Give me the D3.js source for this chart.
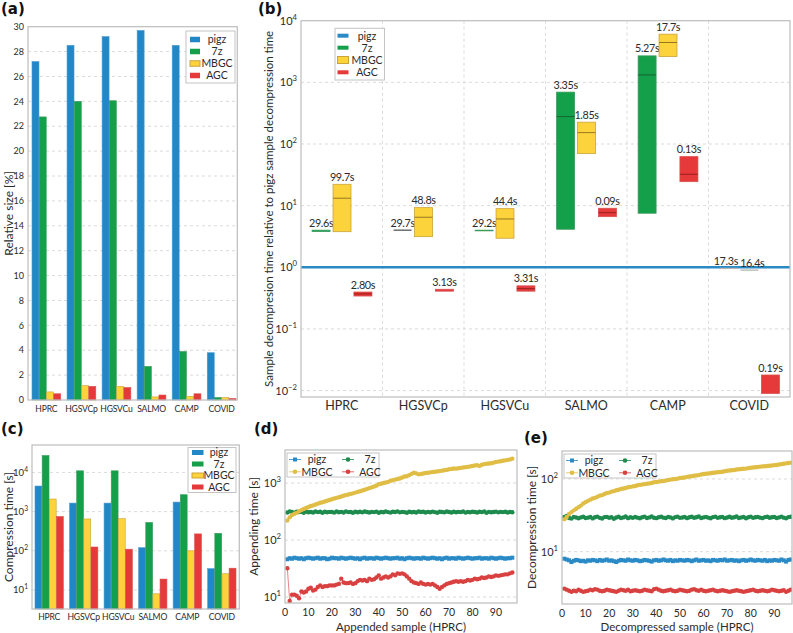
<!DOCTYPE html>
<html><head><meta charset="utf-8">
<script src="https://cdn.jsdelivr.net/npm/d3@7"></script>
<style>
body{margin:0;background:#fff;}
svg{font-family:Lato,"DejaVu Sans",sans-serif;}
</style></head><body>
<svg id="c" width="793" height="633"></svg>
<script>
// ---------------- data ----------------
const categories = ["HPRC","HGSVCp","HGSVCu","SALMO","CAMP","COVID"];
const tools = ["pigz","7z","MBGC","AGC"];

// (a) relative size [%]
const sizePigz = [27.2,28.5,29.2,29.7,28.5,3.8];
const size7z   = [22.75,24.0,24.05,2.7,3.9,0.2];
const sizeMBGC = [0.65,1.15,1.1,0.25,0.3,0.2];
const sizeAGC  = [0.5,1.1,1.0,0.4,0.5,0.12];
const sizeTicks = [0,2,4,6,8,10,12,14,16,18,20,22,24,26,28,30];

// (b) relative decompression time: low / median / high, and absolute time labels
const pigzRef = 1;
const b7zLow   = [3.8,4.0,3.9,4.14,7.53,0.96];
const b7zMed   = [null,null,null,278,1320,null];
const b7zHigh  = [4.0,4.0,4.0,694,2690,0.96];
const b7zLab   = ["29.6s","29.7s","29.2s","3.35s","5.27s","17.3s"];
const bMBGCLow  = [3.78,3.14,2.96,69.8,2620,0.9];
const bMBGCMed  = [13.2,6.48,6.08,153,4430,null];
const bMBGCHigh = [22.2,9.28,8.94,226,6050,0.9];
const bMBGCLab  = ["99.7s","48.8s","44.4s","1.85s","17.7s","16.4s"];
const bAGCLow  = [0.342,0.41,0.41,6.63,24.5,0.009];
const bAGCMed  = [0.37,null,0.45,7.7,32.3,null];
const bAGCHigh = [0.397,0.44,0.50,9.07,62.4,0.0179];
const bAGCLab  = ["2.80s","3.13s","3.31s","0.09s","0.13s","0.19s"];
const bExpTicks = [-2,-1,0,1,2,3,4];

// (c) compression time [s]
const compPigz = [4500,1650,1650,120,1750,35];
const comp7z   = [27000,11000,11000,530,2700,280];
const compMBGC = [2100,650,660,8,100,26];
const compAGC  = [750,125,110,19,270,36];
const cExpTicks = [1,2,3,4];

// (d) appending time [s] per appended sample (HPRC)
const dPigz = [46,48,47,49,48,47,48,46,48,49, 48,47,48,49,47,48,48,46,47,49, 48,48,47,49,48,47,48,49,48,47, 48,46,48,49,47,48,48,47,49,48,
 47,48,49,48,47,48,48,49,47,48, 46,48,49,48,47,48,48,47,49,48, 47,48,49,48,47,48,46,48,49,47, 48,48,47,49,48,47,48,49,48,47,
 48,48,49,47,48,48,47,49,48,47, 48,49,48,47,48,48,49];
const d7z = [305,318,310,302,315,309,312,300,316,308, 311,304,317,309,313,301,314,307,312,310, 303,316,308,312,305,318,309,311,302,314,
 308,313,306,317,310,304,312,309,315,301, 311,307,316,309,303,313,310,318,306,312, 309,302,314,308,311,305,316,310,313,304,
 312,307,315,309,301,314,310,306,317,311, 304,313,308,312,309,316,303,311,307,314, 310,305,313,309,316,302,312,308,311,315,
 306,312,309,314,305,311,308];
const dMBGC = [220,250,275,290,300,320,335,350,365,380, 395,405,420,435,450,460,475,490,505,520, 535,550,565,580,600,615,630,645,660,680,
 700,720,740,765,790,815,840,870,900,950, 970,1000,1020,1050,1100,1120,1150,1180,1200,1250, 1300,1320,1380,1450,1520,1480,1420,1440,1470,1500,
 1520,1540,1560,1580,1600,1620,1650,1680,1700,1750, 1770,1800,1790,1820,1850,1870,1900,1920,1960,2000, 2030,2060,2000,2100,2150,2180,2200,2230,2280,2350,
 2380,2420,2460,2500,2550,2600,2680];
const dAGC = [32,8.5,11,11,10.5,9.5,12.5,12,12.5,14, 14.5,13,13.5,15,16,15,15.5,15.5,16,16, 16,16.5,17,21,18,17.5,17.5,18,17,17.5,
 19,20,19.5,20,19,21,20,20.5,22,24, 21,22,23,22,23,25,24,26,25.5,26, 25,23,21,19,18,17.5,17,18,17,16.5,
 17,16.5,17,16,15,14,15,16,17,17.5, 18,18.5,19,18.5,19,18.5,19,20,19.5,20, 21,20.5,21,22,21.5,22,23,22.5,23,24,
 23.5,24,24.5,25,25,26,27];
const dXTicks = [0,10,20,30,40,50,60,70,80,90];
const dExpTicks = [1,2,3];

// (e) decompression time [s] per decompressed sample (HPRC)
const ePigz = [8.0,7.8,7.6,7.2,7.5,7.7,7.6,7.4,7.5,7.3, 7.6,7.5,7.7,7.6,7.4,7.7,7.5,7.6,7.8,7.5, 7.6,7.4,7.2,7.5,7.7,7.6,7.5,7.8,7.6,7.5,
 7.7,7.6,7.4,7.5,7.7,7.6,7.5,7.3,7.6,7.7, 7.5,7.6,7.8,7.6,7.5,7.7,7.4,7.6,7.5,7.7, 7.6,7.5,7.7,7.6,7.4,7.6,7.8,7.5,7.6,7.7,
 7.5,7.6,7.4,7.7,7.6,7.5,7.7,7.6,7.8,7.5, 7.6,7.7,7.5,7.6,7.4,7.6,7.7,7.5,7.6,7.8, 7.6,7.5,7.7,7.6,7.5,7.7,7.4,7.6,7.5,7.7,
 7.6,7.5,7.8,7.6,7.3,7.7,7.8];
const e7z = [30,31,29,28.5,30,29.5,28.8,29.6,30.2,29, 29.4,30,28.7,29.8,30.3,29.2,28.6,29.9,30.1,29.3, 29.7,28.4,29.5,30.2,29,29.6,30.4,28.9,29.8,29.2,
 30,29.4,28.8,29.7,30.3,29.1,29.6,30.5,29.3,28.9, 29.8,30.2,29.4,29,30.1,29.6,28.7,29.9,30.3,29.2, 29.5,30,28.9,29.7,30.2,29.3,29.8,30.4,29,29.6,
 30.1,29.4,28.8,29.9,30.3,29.2,29.7,30,28.9,29.5, 30.2,29.3,29.8,30.4,29.1,29.6,30,28.8,29.7,30.3, 29.2,29.8,30.1,29.4,28.9,29.9,30.2,29.3,29.7,30,
 29.1,29.6,30.3,29.4,28.8,29.9,30.2];
const eMBGC = [28,30,33,35,37,39,41,43,46,48, 50,52,54,55,57,59,60,62,64,65, 67,68,70,71,73,74,75,77,78,79,
 80,82,83,84,85,86,87,88,90,91, 92,93,94,95,97,98,99,100,101,103, 104,105,107,108,109,111,112,113,115,117,
 118,119,120,122,123,124,125,126,128,130, 131,132,133,135,136,137,138,139,141,143, 144,145,146,148,149,150,151,152,153,155,
 156,158,160,162,164,166,168];
const eAGC = [3.1,3.0,2.9,2.8,2.9,2.85,3.0,2.9,2.8,2.85, 2.9,3.0,2.95,3.05,3.0,2.9,2.85,2.9,3.0,2.95, 2.9,2.85,2.8,2.9,3.0,2.95,2.9,3.0,2.85,2.9,
 2.95,2.9,2.85,2.9,3.0,2.95,2.9,2.85,3.05,3.1, 3.0,2.9,2.85,2.9,2.95,3.0,2.9,2.85,2.9,3.0, 2.95,2.9,2.85,2.9,3.0,3.05,2.95,2.9,3.0,2.9,
 2.85,2.9,2.95,3.0,2.9,2.85,2.9,2.95,2.9,2.85, 2.8,2.85,2.9,2.95,2.9,2.85,2.8,2.85,2.9,2.95, 3.0,2.9,2.85,2.9,2.95,2.9,2.85,2.9,3.0,2.95,
 2.9,2.85,2.9,2.95,2.8,2.9,3.0];
const eXTicks = [0,10,20,30,40,50,60,70,80,90];
const eExpTicks = [1,2];

// ---------------- styles ----------------
const FILL = {pigz:"#2187c6","7z":"#14a04b",MBGC:"#fdd33b",AGC:"#e5393a"};
const EDGE = {pigz:"#4a9bd0","7z":"#3c9a5a",MBGC:"#c9a43a",AGC:"#d95050"};
const MED  = {"7z":"#145c2e",MBGC:"#8a6d1e",AGC:"#8e1c1c"};
const LN   = {pigz:"#2a8ac6","7z":"#1e8b4e",MBGC:"#e0bd45",AGC:"#d94040"};
const GRID = "#d2d2d2", SPINE = "#bdbdbd", TXT = "#2b2b2b";

const svg = d3.select("#c");

function pow10Label(g, e, x, y, size, anchor){
  const t = g.append("text").attr("x",x).attr("y",y).attr("font-size",size)
    .attr("fill",TXT).attr("text-anchor",anchor||"end").text("10");
  t.append("tspan").attr("dy",-size*0.45).attr("font-size",size*0.7)
    .text(e<0 ? "\u2212"+(-e) : String(e));
}
function frame(g,x0,y0,x1,y1){
  g.append("rect").attr("x",x0).attr("y",y0).attr("width",x1-x0).attr("height",y1-y0)
   .attr("fill","none").attr("stroke",SPINE).attr("stroke-width",1.2);
}
function hgrid(g,x0,x1,y){
  g.append("line").attr("x1",x0).attr("x2",x1).attr("y1",y).attr("y2",y)
   .attr("stroke",GRID).attr("stroke-width",0.8).attr("stroke-dasharray","3,3");
}
function vgrid(g,x,y0,y1){
  g.append("line").attr("x1",x).attr("x2",x).attr("y1",y0).attr("y2",y1)
   .attr("stroke",GRID).attr("stroke-width",0.8).attr("stroke-dasharray","3,3");
}
function panelTag(txt,x,y){
  svg.append("text").attr("x",x).attr("y",y).attr("font-size",15).attr("font-weight","bold")
    .attr("font-family","'DejaVu Sans',sans-serif").attr("fill","#111").text(txt);
}
function barLegend(g, x0, y0, w, h, rows, sw, swh, textX, fs){
  g.append("rect").attr("x",x0).attr("y",y0).attr("width",w).attr("height",h)
    .attr("fill","#fff").attr("stroke","#c4c4c4").attr("stroke-width",1);
  tools.forEach((t,i)=>{
    const yy = rows[i];
    g.append("rect").attr("x",x0+4).attr("y",yy-swh(t)/2).attr("width",sw).attr("height",swh(t))
      .attr("fill",FILL[t]).attr("stroke",t==="MBGC"?EDGE[t]:"none").attr("stroke-width",1);
    g.append("text").attr("x",textX).attr("y",yy+3.8).attr("font-size",fs).attr("fill",TXT)
      .attr("text-anchor","middle").text(t);
  });
}

// ================= (a) =================
{
  const g = svg.append("g");
  const L=28, R=237.3, T=26.7, B=400;
  const x = d3.scaleBand().domain(categories).range([32,236]).paddingInner(0.18).paddingOuter(0);
  const xs = d3.scaleBand().domain(tools).range([0,x.bandwidth()]).paddingInner(0.04);
  const y = d3.scaleLinear().domain([0,30]).range([B,T]);
  sizeTicks.forEach(v=>{ if(v>0 && v<30) hgrid(g,L,R,y(v));
    g.append("text").attr("x",L-4).attr("y",y(v)+3.2).attr("font-size",9).attr("fill",TXT)
     .attr("text-anchor","end").text(v); });
  const vals = {pigz:sizePigz,"7z":size7z,MBGC:sizeMBGC,AGC:sizeAGC};
  tools.forEach(t=>{
    g.selectAll(null).data(categories).enter().append("rect")
      .attr("x",c=>x(c)+xs(t)).attr("width",xs.bandwidth())
      .attr("y",(c,i)=>y(vals[t][i])).attr("height",(c,i)=>y(0)-y(vals[t][i]))
      .attr("fill",FILL[t]).attr("stroke",EDGE[t]).attr("stroke-width",0.6);
  });
  categories.forEach(c=>g.append("text").attr("x",x(c)+x.bandwidth()/2).attr("y",B+12)
    .attr("font-size",8.6).attr("letter-spacing",-0.2).attr("fill",TXT).attr("text-anchor","middle").text(c));
  frame(g,L,T,R,B);
  barLegend(g,186,31,49,52,[39.5,51.5,63.5,75.5],10,()=>5.5,217,10.5);
  g.append("text").attr("transform",`translate(13,${(T+B)/2}) rotate(-90)`).attr("text-anchor","middle")
    .attr("font-size",12).attr("fill",TXT).text("Relative size [%]");
  panelTag("(a)",1,14);
}

// ================= (b) =================
{
  const g = svg.append("g");
  const L=301, R=790, T=20.7, B=397;
  const x = d3.scaleLinear().domain([0,6]).range([L,R]);
  const y = d3.scaleLog().domain([Math.pow(10,-2.104),1e4]).range([B,T]);
  const xs = d3.scaleBand().domain(tools).range([-0.12,0.87]).paddingInner(0.14);
  [1,2,3,4,5].forEach(v=>vgrid(g,x(v),T,B));
  bExpTicks.forEach(e=>{ if(e<4) hgrid(g,L,R,y(Math.pow(10,e)));
    pow10Label(g,e,L-4,y(Math.pow(10,e))+4,11); });
  g.append("line").attr("x1",L).attr("x2",R).attr("y1",y(pigzRef)).attr("y2",y(pigzRef))
    .attr("stroke","#2a8ac6").attr("stroke-width",2.4);
  const boxes = {"7z":[b7zLow,b7zMed,b7zHigh,b7zLab],MBGC:[bMBGCLow,bMBGCMed,bMBGCHigh,bMBGCLab],AGC:[bAGCLow,bAGCMed,bAGCHigh,bAGCLab]};
  const labNodes = [];
  Object.keys(boxes).forEach(t=>{
    const [lo,md,hi,lab] = boxes[t];
    categories.forEach((c,i)=>{
      const x0 = x(i+xs(t)), w = x(i+xs(t)+xs.bandwidth())-x0;
      const y0 = y(hi[i]), h = y(lo[i])-y(hi[i]);
      if(h<0.5){
        g.append("line").attr("x1",x0).attr("x2",x0+w).attr("y1",y0).attr("y2",y0)
          .attr("stroke", lo[i]<1.2 ? "#b5b5b5" : "#555").attr("stroke-width",1.3);
      } else {
        g.append("rect").attr("x",x0).attr("y",y0).attr("width",w).attr("height",h)
          .attr("fill",FILL[t]).attr("stroke",EDGE[t]).attr("stroke-width",0.8);
      }
      if(md[i]!=null) g.append("line").attr("x1",x0).attr("x2",x0+w).attr("y1",y(md[i])).attr("y2",y(md[i]))
          .attr("stroke",MED[t]).attr("stroke-width",0.9);
      const tx = g.append("text").attr("x",x0+w/2).attr("y",y0-3.5).attr("font-size",10.8).attr("letter-spacing",-0.35)
        .attr("fill",TXT).attr("text-anchor","middle").text(lab[i]);
      labNodes.push(tx);
    });
  });
  // nudge labels that collide horizontally apart
  for(let a=0;a<labNodes.length;a++) for(let b=0;b<labNodes.length;b++){
    if(a===b) continue;
    const A=labNodes[a].node().getBBox(), Bb=labNodes[b].node().getBBox();
    if(A.x < Bb.x && A.x+A.width > Bb.x && Math.abs(A.y-Bb.y) < A.height*0.8){
      const ov = A.x+A.width - Bb.x + 1.5;
      labNodes[a].attr("x", +labNodes[a].attr("x") - ov/2);
      labNodes[b].attr("x", +labNodes[b].attr("x") + ov/2);
    }
  }
  categories.forEach((c,i)=>g.append("text").attr("x",x(i+0.5)).attr("y",B+13)
    .attr("font-size",12.5).attr("fill",TXT).attr("text-anchor","middle").text(c));
  frame(g,L,T,R,B);
  // legend
  g.append("rect").attr("x",335).attr("y",28.3).attr("width",49.5).attr("height",51.7)
    .attr("fill","#fff").attr("stroke","#c4c4c4");
  const rows=[35.7,47.7,60,72.3];
  tools.forEach((t,i)=>{
    const hh = t==="MBGC"?7:4;
    g.append("rect").attr("x",337.5).attr("y",rows[i]-hh/2).attr("width",11).attr("height",hh)
      .attr("fill",t==="pigz"?"#2a8ac6":FILL[t]).attr("stroke",t==="MBGC"?EDGE[t]:"none");
    g.append("text").attr("x",367).attr("y",rows[i]+3.8).attr("font-size",10.5).attr("fill",TXT)
      .attr("text-anchor","middle").text(t);
  });
  g.append("text").attr("transform",`translate(273,${(T+B)/2}) rotate(-90)`).attr("text-anchor","middle")
    .attr("font-size",11.5).attr("fill",TXT).text("Sample decompresion time relative to pigz sample decompression time");
  panelTag("(b)",258,14);
}

// ================= (c) =================
{
  const g = svg.append("g");
  const L=32, R=239.3, T=445, B=609;
  const x = d3.scaleBand().domain(categories).range([35,236]).paddingInner(0.18).paddingOuter(0);
  const xs = d3.scaleBand().domain(tools).range([0,x.bandwidth()]).paddingInner(0.04);
  const y = d3.scaleLog().domain([Math.pow(10,0.515),Math.pow(10,4.70)]).range([B,T]);
  cExpTicks.forEach(e=>{ hgrid(g,L,R,y(Math.pow(10,e))); pow10Label(g,e,L-4,y(Math.pow(10,e))+3.5,9.5); });
  const vals = {pigz:compPigz,"7z":comp7z,MBGC:compMBGC,AGC:compAGC};
  tools.forEach(t=>{
    g.selectAll(null).data(categories).enter().append("rect")
      .attr("x",c=>x(c)+xs(t)).attr("width",xs.bandwidth())
      .attr("y",(c,i)=>y(vals[t][i])).attr("height",(c,i)=>B-y(vals[t][i]))
      .attr("fill",FILL[t]).attr("stroke",EDGE[t]).attr("stroke-width",0.6);
  });
  categories.forEach(c=>g.append("text").attr("x",x(c)+x.bandwidth()/2).attr("y",B+10.5)
    .attr("font-size",8.6).attr("letter-spacing",-0.2).attr("fill",TXT).attr("text-anchor","middle").text(c));
  frame(g,L,T,R,B);
  barLegend(g,188,447.5,48,45,[452.5,464,475.5,487],11.5,()=>5,219,10.5);
  g.append("text").attr("transform",`translate(13,${(T+B)/2}) rotate(-90)`).attr("text-anchor","middle")
    .attr("font-size",12).attr("fill",TXT).text("Compression time [s]");
  panelTag("(c)",1,434);
}

// ========== (d) & (e) scatter-line panels ==========
function linePanel(opt){
  const g = svg.append("g");
  const {L,R,T,B} = opt;
  const x = d3.scaleLinear().domain(opt.xdom).range([L,R]);
  const y = d3.scaleLog().domain(opt.ydom).range([B,T]);
  opt.expTicks.forEach(e=>{ hgrid(g,L,R,y(Math.pow(10,e))); pow10Label(g,e,L-4,y(Math.pow(10,e))+4,11); });
  opt.xTicks.forEach(v=>g.append("text").attr("x",x(v)).attr("y",B+13).attr("font-size",10.5)
    .attr("fill",TXT).attr("text-anchor","middle").text(v));
  const series = [["7z",opt.s7z],["pigz",opt.sPigz],["AGC",opt.sAGC],["MBGC",opt.sMBGC]];
  const clip = "clip"+opt.id;
  g.append("clipPath").attr("id",clip).append("rect").attr("x",L).attr("y",T).attr("width",R-L).attr("height",B-T);
  const inner = g.append("g").attr("clip-path",`url(#${clip})`);
  series.forEach(([t,arr])=>{
    const pts = arr.map((v,i)=>[x(i+1),y(v)]);
    inner.append("path").attr("d",d3.line()(pts)).attr("fill","none").attr("stroke",LN[t]).attr("stroke-width",0.8).attr("opacity",0.8);
    if(t==="pigz"){
      inner.selectAll(null).data(pts).enter().append("rect").attr("x",d=>d[0]-2).attr("y",d=>d[1]-2)
        .attr("width",4).attr("height",4).attr("fill",LN[t]);
    } else {
      inner.selectAll(null).data(pts).enter().append("circle").attr("cx",d=>d[0]).attr("cy",d=>d[1])
        .attr("r",2.2).attr("fill",LN[t]);
    }
  });
  frame(g,L,T,R,B);
  // legend
  const lx = L+2, ly = T+3;
  g.append("rect").attr("x",lx).attr("y",ly).attr("width",92).attr("height",24)
    .attr("fill","#fff").attr("stroke","#c4c4c4");
  const items=[["pigz",0,0],["7z",1,0],["MBGC",0,1],["AGC",1,1]];
  items.forEach(([t,c,r])=>{
    const mx = lx + 8 + c*53, my = ly + 6.5 + r*12.3;
    g.append("line").attr("x1",mx-6).attr("x2",mx+6).attr("y1",my).attr("y2",my).attr("stroke",LN[t]).attr("stroke-width",0.8);
    if(t==="pigz") g.append("rect").attr("x",mx-2).attr("y",my-2).attr("width",4).attr("height",4).attr("fill",LN[t]);
    else g.append("circle").attr("cx",mx).attr("cy",my).attr("r",2.3).attr("fill",LN[t]);
    g.append("text").attr("x",mx+22).attr("y",my+3.8).attr("font-size",10.5).attr("fill",TXT)
      .attr("text-anchor","middle").text(t);
  });
  g.append("text").attr("x",(L+R)/2).attr("y",631).attr("font-size",11.5).attr("fill",TXT)
    .attr("text-anchor","middle").text(opt.xlabel);
  g.append("text").attr("transform",`translate(${opt.ylabX},${(T+B)/2}) rotate(-90)`).attr("text-anchor","middle")
    .attr("font-size",12).attr("fill",TXT).text(opt.ylabel);
}
linePanel({id:"d",L:285,R:517,T:450,B:603,xdom:[0,99],ydom:[Math.pow(10,0.895),Math.pow(10,3.58)],
  expTicks:dExpTicks,xTicks:dXTicks,sPigz:dPigz,s7z:d7z,sMBGC:dMBGC,sAGC:dAGC,
  xlabel:"Appended sample (HPRC)",ylabel:"Appending time [s]",ylabX:258});
linePanel({id:"e",L:562,R:792,T:451,B:604,xdom:[0,97.5],ydom:[Math.pow(10,0.28),Math.pow(10,2.385)],
  expTicks:eExpTicks,xTicks:eXTicks,sPigz:ePigz,s7z:e7z,sMBGC:eMBGC,sAGC:eAGC,
  xlabel:"Decompressed sample (HPRC)",ylabel:"Decompression time [s]",ylabX:536});
panelTag("(d)",254,434);
panelTag("(e)",524,443);
</script>
</body></html>
